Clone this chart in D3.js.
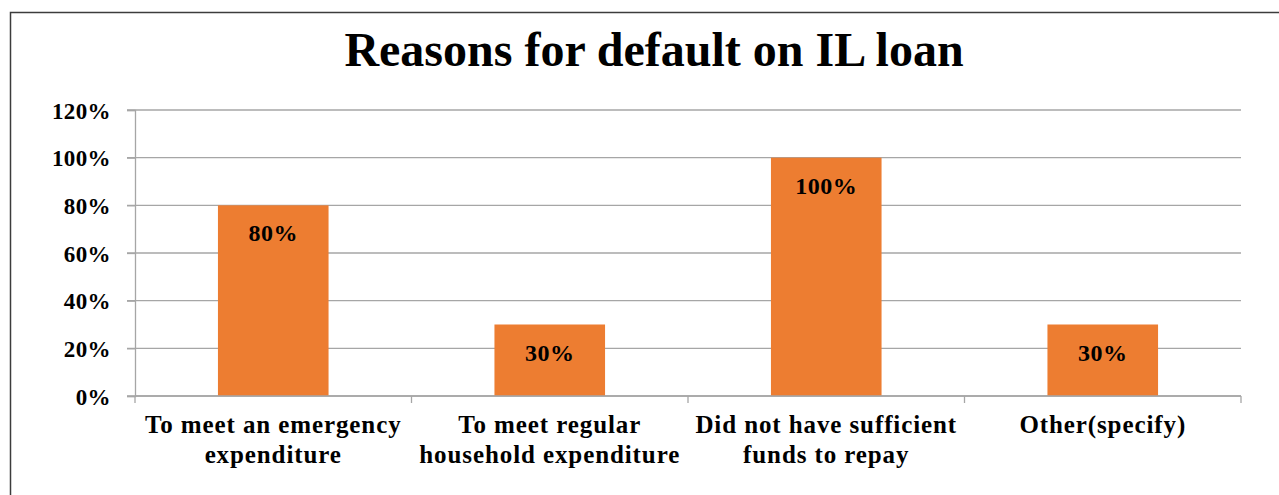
<!DOCTYPE html>
<html><head><meta charset="utf-8">
<script src="https://cdn.jsdelivr.net/npm/d3@7"></script>
<style>html,body{margin:0;padding:0;background:#fff;overflow:hidden}</style>
</head><body>
<svg id="c" width="1279" height="495"></svg>
<script>
const categories = [
  ["To meet an emergency", "expenditure"],
  ["To meet regular", "household expenditure"],
  ["Did not have sufficient", "funds to repay"],
  ["Other(specify)"]
];
const values = [0.80, 0.30, 1.00, 0.30];
const yTicks = [0, 0.2, 0.4, 0.6, 0.8, 1.0, 1.2];
const title = "Reasons for default on IL loan";

const svg = d3.select("#c");
const font = "'Liberation Serif', 'Times New Roman', serif";
const L = 135, R = 1241, T = 110, B = 396;

svg.append("rect").attr("x", 10.5).attr("y", 12.5).attr("width", 1300).attr("height", 600)
  .attr("fill", "none").attr("stroke", "#3c3c3c").attr("stroke-width", 1.5);

const x = d3.scaleBand().domain(d3.range(categories.length)).range([L, R]).padding(0);
const y = d3.scaleLinear().domain([0, 1.2]).range([B, T]);
const fmt = d => Math.round(d * 100) + "%";

// gridlines
svg.append("g").selectAll("line").data(yTicks).join("line")
  .attr("x1", L - 8).attr("x2", R).attr("y1", d => y(d)).attr("y2", d => y(d))
  .attr("stroke", "#a6a6a6").attr("stroke-width", 1.3);

// y axis
const ya = svg.append("g").attr("transform", `translate(${L},0)`)
  .call(d3.axisLeft(y).tickValues(yTicks).tickFormat(fmt).tickSize(8).tickPadding(16));
ya.select(".domain").attr("stroke", "#a6a6a6").attr("stroke-width", 1.3);
ya.selectAll(".tick line").attr("stroke", "#a6a6a6").attr("stroke-width", 1.3);
ya.selectAll("text").attr("font-family", font).attr("font-weight", "bold")
  .attr("font-size", 23).attr("letter-spacing", 0.4).attr("fill", "#000").attr("dy", "0.35em");

// bars
const bw = x.bandwidth() * 0.4;
svg.append("g").selectAll("rect").data(values).join("rect")
  .attr("x", (d, i) => x(i) + x.bandwidth() / 2 - bw / 2)
  .attr("width", bw)
  .attr("y", d => y(d)).attr("height", d => B - y(d))
  .attr("fill", "#ED7D31");

// x axis
const xa = svg.append("g").attr("transform", `translate(0,${B})`);
xa.append("line").attr("x1", L).attr("x2", R).attr("stroke", "#a6a6a6").attr("stroke-width", 1.3);
xa.selectAll("line.t").data(d3.range(categories.length + 1)).join("line").attr("class", "t")
  .attr("x1", i => i < categories.length ? x(i) : R).attr("x2", i => i < categories.length ? x(i) : R)
  .attr("y1", 0).attr("y2", 7).attr("stroke", "#a6a6a6").attr("stroke-width", 1.3);

// category labels
const cl = svg.append("g").selectAll("text").data(categories).join("text")
  .attr("text-anchor", "middle").attr("font-family", font).attr("font-weight", "bold")
  .attr("font-size", 25).attr("letter-spacing", 0.9).attr("fill", "#000");
cl.selectAll("tspan").data((d, i) => d.map(s => ({s, i}))).join("tspan")
  .attr("x", d => x(d.i) + x.bandwidth() / 2)
  .attr("y", (d, j) => 433 + j * 30)
  .text(d => d.s);

// data labels
svg.append("g").selectAll("text").data(values).join("text")
  .attr("x", (d, i) => x(i) + x.bandwidth() / 2)
  .attr("y", d => y(d) + 36)
  .attr("text-anchor", "middle").attr("font-family", font).attr("font-weight", "bold")
  .attr("font-size", 24).attr("letter-spacing", 0.5).attr("fill", "#000").text(fmt);

// title
svg.append("text").attr("x", 654).attr("y", 66).attr("text-anchor", "middle")
  .attr("font-family", font).attr("font-weight", "bold").attr("font-size", 48)
  .attr("fill", "#000").text(title);
</script>
</body></html>
